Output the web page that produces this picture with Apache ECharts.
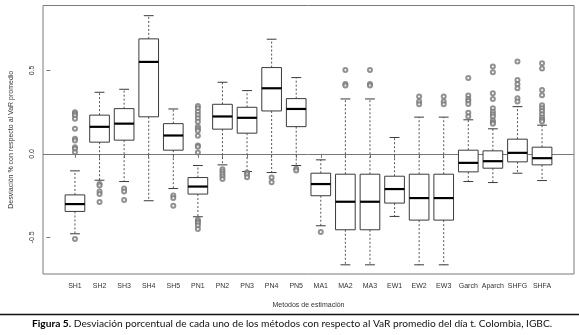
<!DOCTYPE html>
<html>
<head>
<meta charset="utf-8">
<script src="https://cdn.jsdelivr.net/npm/echarts@6/dist/echarts.min.js"></script>
<style>
  html, body { margin: 0; padding: 0; background: #fff; }
  #chart { width: 579px; height: 335px; }
</style>
</head>
<body>
<div id="chart"></div>
<script>
// categorias y estadisticos de cada caja
var categories = ['SH1','SH2','SH3','SH4','SH5','PN1','PN2','PN3','PN4','PN5',
  'MA1','MA2','MA3','EW1','EW2','EW3','Garch','Aparch','SHFG','SHFA'];
var whiskerLow  = [-0.479,-0.158,-0.166,-0.281,-0.208,-0.377,-0.066,-0.106,-0.112,-0.070,
  -0.431,-0.665,-0.665,-0.375,-0.665,-0.665,-0.166,-0.172,-0.116,-0.160];
var q1          = [-0.345, 0.070, 0.082, 0.222, 0.022,-0.241, 0.148, 0.124, 0.257, 0.163,
  -0.251,-0.455,-0.455,-0.295,-0.397,-0.397,-0.108,-0.086,-0.048,-0.066];
var median      = [-0.301, 0.162, 0.181, 0.551, 0.110,-0.196, 0.224, 0.216, 0.393, 0.269,
  -0.181,-0.287,-0.287,-0.211,-0.265,-0.265,-0.054,-0.044, 0.006,-0.026];
var q3          = [-0.246, 0.232, 0.271, 0.689, 0.181,-0.142, 0.297, 0.279, 0.517, 0.331,
  -0.116,-0.122,-0.122,-0.134,-0.122,-0.122, 0.022, 0.018, 0.088, 0.040];
var whiskerHigh = [-0.102, 0.369, 0.387, 0.828, 0.269,-0.070, 0.429, 0.379, 0.687, 0.457,
  -0.036, 0.329, 0.329, 0.098, 0.220, 0.220, 0.204, 0.150, 0.283, 0.172];
var outliers = [
  [0.25,0.24,0.23,0.21,0.15,0.09,0.08,0.04,0.03,0.01,-0.511],
  [-0.181,-0.19,-0.226,-0.241,-0.289],
  [-0.208,-0.226,-0.277],
  [],
  [-0.25,-0.265,-0.311],
  [0.287,0.273,0.253,0.233,0.213,0.193,0.163,0.15,0.138,0.108,0.05,0.042,0.008,
   -0.395,-0.405,-0.415,-0.429,-0.451],
  [-0.092,-0.106,-0.12,-0.136,-0.15],
  [-0.112,-0.122,-0.14],
  [-0.142,-0.17],
  [-0.09,-0.1],
  [-0.469],
  [0.503,0.419,0.409],
  [0.503,0.419,0.409],
  [],
  [0.343,0.313,0.297],
  [0.343,0.313,0.297],
  [0.455,0.349,0.329,0.317,0.299,0.247,0.224],
  [0.523,0.489,0.363,0.329,0.273,0.253,0.237,0.224,0.2,0.188,0.18],
  [0.553,0.443,0.417,0.393,0.333,0.313],
  [0.543,0.511,0.383,0.351,0.291,0.273,0.257,0.237,0.218,0.204,0.194]
];
var yTicks = [-0.5, 0, 0.5];

var positions = categories.map(function (c, i) { return i + 1; });

var boxData = categories.map(function (c, i) {
  return [i + 1, whiskerLow[i], q1[i], median[i], q3[i], whiskerHigh[i]];
});
var outlierData = [];
outliers.forEach(function (list, i) {
  list.forEach(function (v) { outlierData.push([i + 1, v]); });
});

var lineColor = '#3a3a3a';

function renderBox(params, api) {
  var x = api.value(0);
  var pLow = api.coord([x, api.value(1)]);
  var pQ1 = api.coord([x, api.value(2)]);
  var pMed = api.coord([x, api.value(3)]);
  var pQ3 = api.coord([x, api.value(4)]);
  var pHigh = api.coord([x, api.value(5)]);
  var w = api.size([0.8, 0])[0];
  var cx = pMed[0];
  var dashed = { stroke: '#555', lineWidth: 1, lineDash: [2, 2] };
  var solid = { stroke: lineColor, lineWidth: 1 };
  return {
    type: 'group',
    children: [
      { type: 'line', shape: { x1: cx, y1: pQ3[1], x2: cx, y2: pHigh[1] }, style: dashed },
      { type: 'line', shape: { x1: cx, y1: pQ1[1], x2: cx, y2: pLow[1] }, style: dashed },
      { type: 'line', shape: { x1: cx - w / 4, y1: pHigh[1], x2: cx + w / 4, y2: pHigh[1] }, style: solid },
      { type: 'line', shape: { x1: cx - w / 4, y1: pLow[1], x2: cx + w / 4, y2: pLow[1] }, style: solid },
      { type: 'rect', shape: { x: cx - w / 2, y: pQ3[1], width: w, height: pQ1[1] - pQ3[1] },
        style: { fill: '#fff', stroke: lineColor, lineWidth: 1 } },
      { type: 'line', shape: { x1: cx - w / 2, y1: pMed[1], x2: cx + w / 2, y2: pMed[1] },
        style: { stroke: '#000', lineWidth: 2.2 } }
    ]
  };
}

var axisFont = { fontFamily: 'Liberation Sans', fontSize: 7, color: '#333' };

var option = {
  animation: false,
  backgroundColor: '#fff',
  grid: {
    left: 32, right: 5, top: 5.5, bottom: 61,
    show: true, borderColor: '#7a7a7a', borderWidth: 1
  },
  xAxis: {
    type: 'value',
    min: -0.3, max: 21.3,
    name: 'Metodos de estimación',
    nameLocation: 'middle',
    nameGap: 28,
    nameTextStyle: axisFont,
    axisLine: { show: false },
    splitLine: { show: false },
    axisTick: { show: true, length: 4, customValues: positions, lineStyle: { color: '#777' } },
    axisLabel: Object.assign({
      customValues: positions,
      margin: 9,
      formatter: function (v) { return categories[Math.round(v) - 1] || ''; }
    }, axisFont)
  },
  yAxis: {
    type: 'value',
    min: -0.72, max: 0.889,
    name: 'Desviación % con respecto al VaR promedio',
    nameLocation: 'middle',
    nameGap: 28,
    nameTextStyle: axisFont,
    axisLine: { show: false },
    splitLine: { show: false },
    axisTick: { show: true, length: 4, customValues: yTicks, lineStyle: { color: '#777' } },
    axisLabel: Object.assign({
      customValues: yTicks,
      rotate: 90,
      margin: 7,
      formatter: function (v) { return v.toFixed(1); }
    }, axisFont)
  },
  series: [
    {
      type: 'custom',
      renderItem: renderBox,
      data: boxData,
      encode: { x: 0, y: [1, 2, 3, 4, 5] },
      z: 3,
      markLine: {
        silent: true,
        symbol: 'none',
        label: { show: false },
        lineStyle: { color: '#777', width: 1, type: 'solid' },
        data: [{ yAxis: 0 }],
        z: 1
      }
    },
    {
      type: 'scatter',
      data: outlierData,
      symbol: 'emptyCircle',
      symbolSize: 4,
      itemStyle: { color: '#777', borderColor: '#777', borderWidth: 0.7 },
      z: 4
    }
  ],
  graphic: [
    { type: 'line', shape: { x1: 0, y1: 314.5, x2: 579, y2: 314.5 },
      style: { stroke: '#111', lineWidth: 1.5 } },
    {
      type: 'text', left: 32, top: 319,
      style: {
        text: '{b|Figura 5.} Desviación porcentual de cada uno de los métodos con respecto al VaR promedio del día t. Colombia, IGBC.',
        fontFamily: 'Lato', fontSize: 10.2, fill: '#111',
        rich: { b: { fontWeight: 'bold', fontFamily: 'Lato', fontSize: 10.2, fill: '#000' } }
      }
    }
  ]
};

var chart = echarts.init(document.getElementById('chart'));
chart.setOption(option);
</script>
</body>
</html>
